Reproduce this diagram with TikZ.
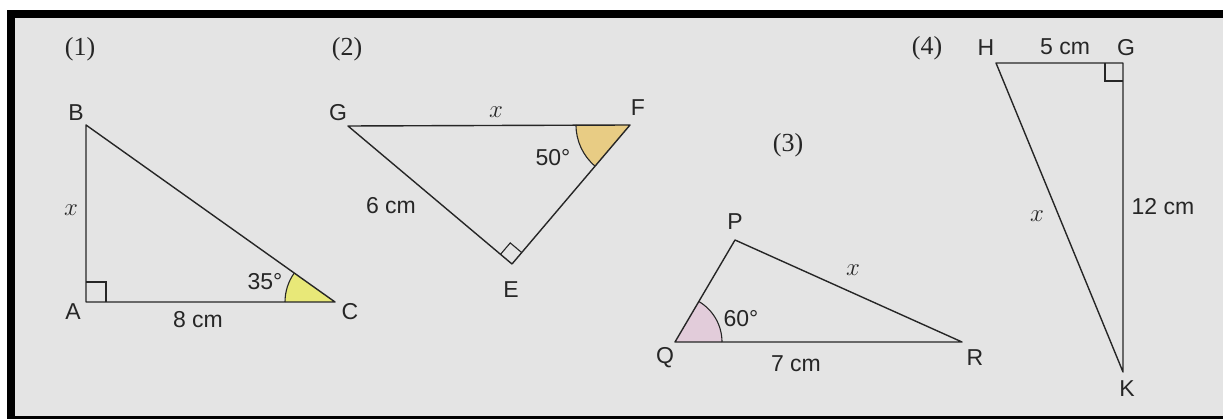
\documentclass[tikz,border=0pt]{standalone}
\usepackage{fontspec}
\newfontfamily\labfont{Liberation Sans}
\newfontfamily\numfont{Liberation Serif}
\usetikzlibrary{calc}
\definecolor{bg}{HTML}{E4E4E4}
\definecolor{fillC}{HTML}{E8E878}
\definecolor{fillF}{HTML}{E8CC84}
\definecolor{fillQ}{HTML}{E2CCDA}
\tikzset{
  edge/.style={line width=1.4pt, line join=round, black!85},
  thin edge/.style={line width=1.1pt, black!85},
  lab/.style={font=\labfont\fontsize{23}{26}\selectfont, text=black!85, inner sep=0pt},
  num/.style={font=\numfont\fontsize{26}{29}\selectfont, text=black!85, inner sep=0pt},
  var/.style={font=\fontsize{26}{29}\selectfont, text=black!85, inner sep=0pt},
}
\begin{document}
\begin{tikzpicture}[x=1pt,y=-1pt]
\useasboundingbox (0,0) rectangle (1223,419);
% background and frame
\fill[white] (0,0) rectangle (1223,419);
\fill[bg] (15,18) rectangle (1223,416);
\fill[black] (7,10) rectangle (1223,18);
\fill[black] (7,10) rectangle (15,419);
\fill[black] (7,416) rectangle (1223,419);

% ---------- (1) ----------
\coordinate (A) at (86,302);
\coordinate (B) at (86,125);
\coordinate (C) at (335,302);
\fill[fillC] (C) -- ++(180:50) arc[start angle=180, end angle=215.4, radius=50] -- cycle;
\draw[thin edge] ($(C)+(180:50)$) arc[start angle=180, end angle=215.4, radius=50];
\draw[edge] (A) -- (B) -- (C) -- cycle;
\draw[thin edge] ($(A)+(0,-20)$) -- ++(20,0) -- ++(0,20);
\node[num] (n1) at (80,49) {(1)};
\node[lab] (lB) at (76,113) {B};
\node[lab] (lA) at (73,312) {A};
\node[lab] (lC) at (350,312) {C};
\node[var] (x1) at (71,210) {$x$};
\node[lab] (s1) at (198,320) {8 cm};
\node[lab] (a1) at (265,282) {35°};

% ---------- (2) ----------
\coordinate (G) at (348,126);
\coordinate (F) at (630,125);
\coordinate (E) at (512,264);
\fill[fillF] (F) -- ++(180:54) arc[start angle=180, end angle=130.3, radius=54] -- cycle;
\draw[thin edge] ($(F)+(180:54)$) arc[start angle=180, end angle=130.3, radius=54];
\draw[edge] (G) -- (F) -- (E) -- cycle;
\coordinate (Eg) at ($(E)!15pt!(G)$);
\coordinate (Ef) at ($(E)!15pt!(F)$);
\coordinate (Ec) at ($(Eg)+(Ef)-(E)$);
\draw[thin edge] (Eg) -- (Ec) -- (Ef);
\node[num] (n2) at (347,49) {(2)};
\node[lab] (lG) at (338,113) {G};
\node[lab] (lF) at (638,108) {F};
\node[lab] (lE) at (511,290) {E};
\node[var] (x2) at (496,112) {$x$};
\node[lab] (a2) at (553,158) {50°};
\node[lab] (s2) at (391,206) {6 cm};

% ---------- (3) ----------
\coordinate (P) at (735,240);
\coordinate (Q) at (675,342);
\coordinate (R) at (962,342);
\fill[fillQ] (Q) -- ++(0:47) arc[start angle=0, end angle=-59.5, radius=47] -- cycle;
\draw[thin edge] ($(Q)+(0:47)$) arc[start angle=0, end angle=-59.5, radius=47];
\draw[edge] (P) -- (Q) -- (R) -- cycle;
\node[num] (n3) at (788,145) {(3)};
\node[lab] (lP) at (735,222) {P};
\node[lab] (lQ) at (665,358) {Q};
\node[lab] (lR) at (975,358) {R};
\node[var] (x3) at (853,270) {$x$};
\node[lab] (a3) at (741,319) {60°};
\node[lab] (s3) at (796,364) {7 cm};

% ---------- (4) ----------
\coordinate (H) at (996,63);
\coordinate (G4) at (1123,63);
\coordinate (K) at (1123,372);
\draw[edge] (H) -- (G4) -- (K) -- cycle;
\draw[thin edge] ($(G4)+(-18,0)$) -- ++(0,18) -- ++(18,0);
\node[num] (n4) at (927,48) {(4)};
\node[lab] (lH) at (986,48) {H};
\node[lab] (lG4) at (1126,48) {G};
\node[lab] (s4) at (1065,47) {5 cm};
\node[lab] (s5) at (1163,207) {12 cm};
\node[var] (x4) at (1037,216) {$x$};
\node[lab] (lK) at (1127,389) {K};
\end{tikzpicture}
\end{document}
